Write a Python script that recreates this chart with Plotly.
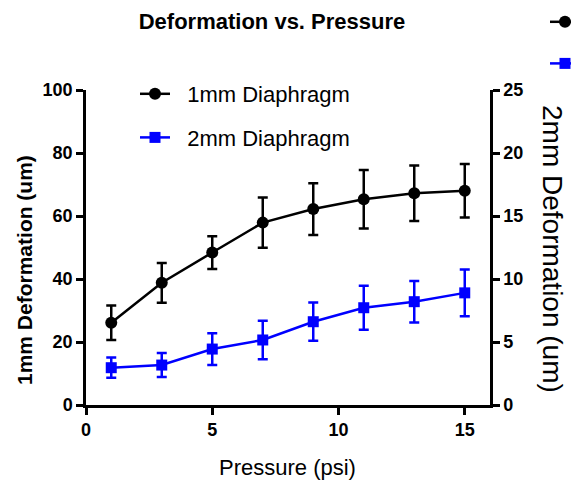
import plotly.graph_objects as go

pressure = [1, 3, 5, 7, 9, 11, 13, 15]
def_1mm = [26.1, 38.8, 48.4, 57.9, 62.2, 65.3, 67.2, 68.0]
err_1mm = [5.5, 6.3, 5.2, 8.0, 8.2, 9.3, 8.8, 8.5]
def_2mm = [2.96, 3.17, 4.44, 5.16, 6.61, 7.72, 8.2, 8.9]
err_2mm = [0.8, 0.95, 1.26, 1.52, 1.52, 1.75, 1.65, 1.85]

x_ticks = [0, 5, 10, 15]
y1_ticks = [0, 20, 40, 60, 80, 100]
y2_ticks = [0, 5, 10, 15, 20, 25]

W, H = 571, 485
L, R, T, B = 86, 490, 90, 405
FONT = "Liberation Sans, Arial, sans-serif"
BLACK = "#000000"
BLUE = "#0000FF"
GAP = "\u00a0\u00a0"

def px(xp):
    return (xp - L) / (R - L)

def py(yp):
    return (B - yp) / (B - T)

fig = go.Figure()

style1 = dict(mode="lines+markers", line=dict(color=BLACK, width=2.5),
              marker=dict(symbol="circle", size=12, color=BLACK))
style2 = dict(mode="lines+markers", line=dict(color=BLUE, width=2.5),
              marker=dict(symbol="square", size=11, color=BLUE))

fig.add_trace(go.Scatter(x=pressure, y=def_1mm, name=GAP + "1mm Diaphragm", legendgroup="a",
                         error_y=dict(type="data", array=err_1mm, color=BLACK, thickness=2.5, width=5),
                         **style1))
fig.add_trace(go.Scatter(x=pressure, y=def_2mm, name=GAP + "2mm Diaphragm", legendgroup="b", yaxis="y2",
                         error_y=dict(type="data", array=err_2mm, color=BLUE, thickness=2.5, width=5),
                         **style2))
# duplicated (cut-off) legend symbols at the top right
fig.add_trace(go.Scatter(x=[None], y=[None], name="\u00a0", legend="legend2", legendgroup="c", **style1))
fig.add_trace(go.Scatter(x=[None], y=[None], name="\u00a0", legend="legend2", legendgroup="d", **style2))

axis_common = dict(showline=True, linecolor=BLACK, linewidth=2.5, ticks="outside",
                   ticklen=7, tickwidth=2.5, tickcolor=BLACK, showgrid=False, zeroline=False,
                   tickfont=dict(family=FONT, size=18, color=BLACK, weight="bold"))

fig.update_layout(
    width=W, height=H,
    margin=dict(l=L, r=W - R, t=T, b=H - B, autoexpand=False),
    paper_bgcolor="white", plot_bgcolor="white",
    showlegend=True,
    title=dict(text="<b>Deformation vs. Pressure</b>", xref="container", yref="container",
               x=272 / W, y=1 - 21 / H, xanchor="center", yanchor="middle",
               font=dict(family=FONT, size=22, color=BLACK)),
    xaxis=dict(range=[0, 16], tickvals=x_ticks, automargin=False, **axis_common),
    yaxis=dict(range=[0, 100], tickvals=y1_ticks, automargin=False, **axis_common),
    yaxis2=dict(range=[0, 25], tickvals=y2_ticks, overlaying="y", side="right", automargin=False, **axis_common),
    legend=dict(x=px(135), y=py(73), xanchor="left", yanchor="top", bgcolor="rgba(0,0,0,0)",
                font=dict(family=FONT, size=22, color=BLACK), tracegroupgap=12,
                itemwidth=30),
    legend2=dict(x=px(545), y=py(1), xanchor="left", yanchor="top", bgcolor="rgba(0,0,0,0)",
                 font=dict(family=FONT, size=22, color=BLACK), tracegroupgap=10,
                 itemwidth=30),
    annotations=[
        dict(text="Pressure (psi)", x=px(287), y=py(467), xref="paper", yref="paper",
             showarrow=False, xanchor="center", yanchor="middle",
             font=dict(family=FONT, size=22, color=BLACK)),
        dict(text="<b>1mm Deformation (um)</b>", x=px(24), y=py(270), xref="paper", yref="paper",
             showarrow=False, xanchor="center", yanchor="middle", textangle=-90,
             font=dict(family=FONT, size=21, color=BLACK)),
        dict(text="2mm Deformation (um)", x=px(553), y=py(249), xref="paper", yref="paper",
             showarrow=False, xanchor="center", yanchor="middle", textangle=90,
             font=dict(family=FONT, size=28, color=BLACK)),
    ],
)

fig.write_html("out.html", config={"displayModeBar": False},
               post_script="document.body.style.margin='0';")
